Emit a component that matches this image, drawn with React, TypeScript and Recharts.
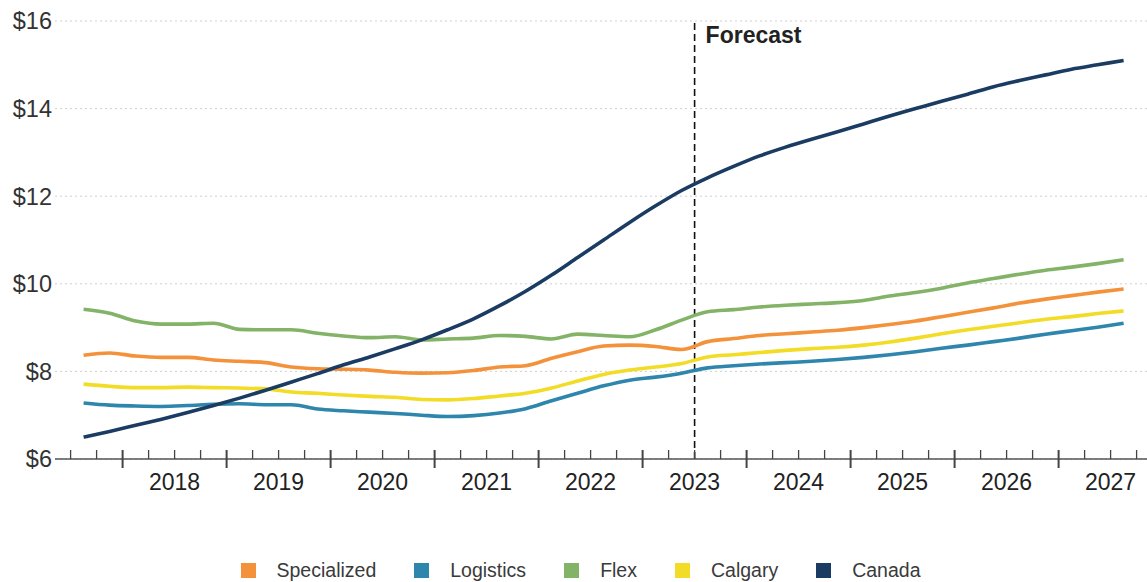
import React from 'react';
import { CartesianGrid, Legend, Line, LineChart, ReferenceLine, XAxis, YAxis } from 'recharts';

// quarterly asking rents, 2017 Q3 .. 2027 Q3 (forecast from 2023 Q3)
const quarters = [
  '2017 Q3', '2017 Q4',
  '2018 Q1', '2018 Q2', '2018 Q3', '2018 Q4',
  '2019 Q1', '2019 Q2', '2019 Q3', '2019 Q4',
  '2020 Q1', '2020 Q2', '2020 Q3', '2020 Q4',
  '2021 Q1', '2021 Q2', '2021 Q3', '2021 Q4',
  '2022 Q1', '2022 Q2', '2022 Q3', '2022 Q4',
  '2023 Q1', '2023 Q2', '2023 Q3', '2023 Q4',
  '2024 Q1', '2024 Q2', '2024 Q3', '2024 Q4',
  '2025 Q1', '2025 Q2', '2025 Q3', '2025 Q4',
  '2026 Q1', '2026 Q2', '2026 Q3', '2026 Q4',
  '2027 Q1', '2027 Q2', '2027 Q3',
];

const specialized = [
  8.37, 8.42, 8.35, 8.32, 8.32, 8.26, 8.23, 8.2, 8.1, 8.06,
  8.05, 8.03, 7.98, 7.96, 7.97, 8.02, 8.1, 8.13, 8.3, 8.45,
  8.58, 8.6, 8.57, 8.5, 8.68, 8.75, 8.82, 8.86, 8.9, 8.94,
  9.0, 9.07, 9.15, 9.25, 9.35, 9.45, 9.56, 9.65, 9.73, 9.81, 9.88,
];
const logistics = [
  7.28, 7.23, 7.21, 7.2, 7.22, 7.25, 7.26, 7.24, 7.24, 7.14,
  7.1, 7.07, 7.04, 7.0, 6.97, 6.99, 7.05, 7.15, 7.33, 7.5,
  7.67, 7.8, 7.87, 7.96, 8.08, 8.13, 8.17, 8.2, 8.23, 8.27,
  8.32, 8.38, 8.45, 8.53, 8.6, 8.68, 8.76, 8.85, 8.93, 9.01, 9.1,
];
const flex = [
  9.42, 9.33, 9.15, 9.08, 9.08, 9.1, 8.96, 8.95, 8.95, 8.87,
  8.81, 8.77, 8.79, 8.72, 8.74, 8.76, 8.82, 8.8, 8.74, 8.85,
  8.82, 8.79, 8.95, 9.17, 9.36, 9.41, 9.47, 9.51, 9.54, 9.57,
  9.62, 9.72, 9.8, 9.9, 10.02, 10.12, 10.22, 10.31, 10.38, 10.46, 10.55,
];
const calgary = [
  7.71, 7.66, 7.63, 7.63, 7.64, 7.63, 7.62, 7.6, 7.53, 7.5,
  7.46, 7.43, 7.41, 7.36, 7.35, 7.38, 7.44, 7.5, 7.62, 7.78,
  7.93, 8.03, 8.1, 8.18, 8.33, 8.38, 8.43, 8.48, 8.52, 8.55,
  8.6, 8.67, 8.76, 8.86, 8.95, 9.03, 9.11, 9.19, 9.25, 9.32, 9.38,
];
const canada = [
  6.5, 6.63, 6.77, 6.91, 7.06, 7.22, 7.39, 7.57, 7.76, 7.95,
  8.15, 8.33, 8.52, 8.72, 8.95, 9.2, 9.5, 9.83, 10.2, 10.6,
  11.0, 11.4, 11.78, 12.13, 12.42, 12.68, 12.92, 13.12, 13.3, 13.47,
  13.65, 13.83, 14.0, 14.17, 14.33, 14.5, 14.64, 14.77, 14.9, 15.0, 15.1,
];

const years = [2017, 2018, 2019, 2020, 2021, 2022, 2023, 2024, 2025, 2026, 2027];
const yearLabels = ['2018', '2019', '2020', '2021', '2022', '2023', '2024', '2025', '2026', '2027'];
const yTicks = [6, 8, 10, 12, 14, 16];
const forecastStart = 2023.5;

const series = [
  { key: 'specialized', name: 'Specialized', color: '#f3923a' },
  { key: 'logistics', name: 'Logistics', color: '#2e86ad' },
  { key: 'flex', name: 'Flex', color: '#82b366' },
  { key: 'calgary', name: 'Calgary', color: '#f2dc26' },
  { key: 'canada', name: 'Canada', color: '#1b3c62' },
];

const FONT = '"Liberation Sans", Arial, sans-serif';

// numeric time: middle of each quarter
const data = quarters.map((q, i) => {
  const [y, qq] = q.split(' Q');
  return {
    quarter: q,
    t: Number(y) + (Number(qq) - 0.5) / 4,
    specialized: specialized[i],
    logistics: logistics[i],
    flex: flex[i],
    calgary: calgary[i],
    canada: canada[i],
  };
});

// ticks at quarter boundaries
const xTicks: number[] = [];
years.forEach((y) => {
  [0, 0.25, 0.5, 0.75].forEach((f) => {
    if (y + f >= 2017.5) xTicks.push(y + f);
  });
});

function QuarterTick(props: any) {
  const { x, y, payload } = props;
  const v = payload.value as number;
  const frac = v - Math.floor(v);
  const major = frac === 0;
  const label = frac === 0.5 && yearLabels.includes(String(Math.floor(v))) ? String(Math.floor(v)) : null;
  return (
    <g>
      <line x1={x} y1={y - 9} x2={x} y2={major ? y + 9 : y} stroke="#444" strokeWidth={major ? 2 : 1.3} />
      {label && (
        <text x={x} y={y + 31} textAnchor="middle" fontSize={23} fill="#222" fontFamily={FONT}>
          {label}
        </text>
      )}
    </g>
  );
}

function LegendBox() {
  return (
    <div style={{ height: 78, display: 'flex', justifyContent: 'center', alignItems: 'flex-start', gap: 38, paddingTop: 56, paddingLeft: 14, boxSizing: 'border-box', fontFamily: FONT }}>
      {series.map((s) => (
        <div key={s.key} style={{ display: 'flex', alignItems: 'center' }}>
          <span style={{ width: 15, height: 15, background: s.color, display: 'inline-block', marginRight: 21 }} />
          <span style={{ fontSize: 19.5, color: '#3a3a3a', lineHeight: '20px' }}>{s.name}</span>
        </div>
      ))}
    </div>
  );
}

export default function App() {
  return (
    <div style={{ position: 'absolute', left: 0, top: 0, background: '#fff' }}>
      <LineChart width={1147} height={582} data={data} margin={{ top: 21, right: 0, bottom: 0, left: 0 }}>
        <CartesianGrid vertical={false} stroke="#cfcfcf" strokeDasharray="2 3" />
        <XAxis
          dataKey="t"
          type="number"
          domain={[2017.35, 2027.85]}
          ticks={xTicks}
          interval={0}
          tick={<QuarterTick />}
          tickLine={false}
          tickSize={0}
          tickMargin={0}
          height={45}
          allowDataOverflow
          axisLine={{ stroke: '#555', strokeWidth: 1.5 }}
        />
        <YAxis
          domain={[6, 16]}
          ticks={yTicks}
          tickFormatter={(v) => `$${v}`}
          axisLine={false}
          tickLine={false}
          tickSize={0}
          tickMargin={3}
          width={55}
          tick={{ fill: '#333', fontSize: 23.5, fontFamily: FONT }}
        />
        <ReferenceLine
          x={forecastStart}
          stroke="#111"
          strokeWidth={1.6}
          strokeDasharray="7 4"
          label={(p: any) => (
            <text x={p.viewBox.x + 11} y={p.viewBox.y + 22} fontSize={23} fontWeight="bold" fill="#222" fontFamily={FONT}>
              Forecast
            </text>
          )}
        />
        {series.map((s) => (
          <Line
            key={s.key}
            type="monotone"
            dataKey={s.key}
            name={s.name}
            stroke={s.color}
            strokeWidth={3.6}
            dot={false}
            isAnimationActive={false}
          />
        ))}
        <Legend verticalAlign="bottom" content={() => <LegendBox />} />
      </LineChart>
    </div>
  );
}
